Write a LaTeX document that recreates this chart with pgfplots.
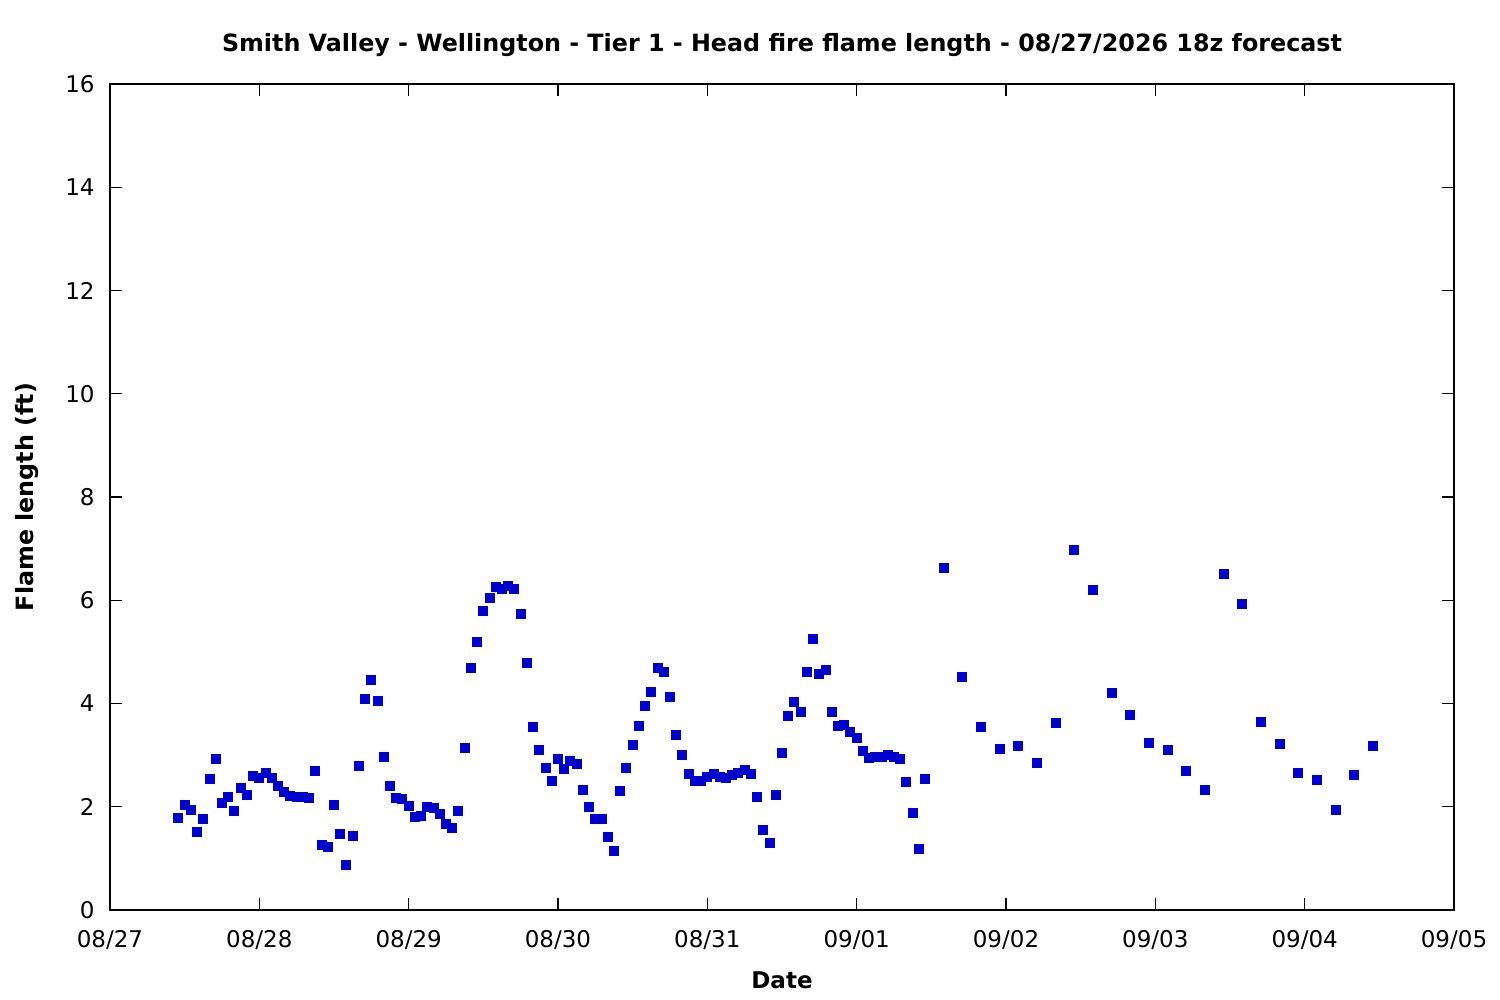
\documentclass[border=0pt]{standalone}
\usepackage{pgfplots}
\pgfplotsset{compat=1.18}
\usepackage{fontspec}
\setmainfont{DejaVu Sans}
\definecolor{ptblue}{HTML}{0000CD}
\begin{document}
\begin{tikzpicture}
\begin{axis}[
  scale only axis,
  width=672bp, height=413bp,
  xmin=0, xmax=216, ymin=0, ymax=16,
  xtick={0,24,...,216},
  xticklabels={08/27,08/28,08/29,08/30,08/31,09/01,09/02,09/03,09/04,09/05},
  ytick={0,2,...,16},
  tick align=inside,
  xtick pos=both, ytick pos=both,
  major tick length=6bp,
  axis line style={line width=1bp},
  tick style={line width=0.6bp, black},
  /pgf/number format/assume math mode=true,
  font=\fontsize{11.5bp}{13bp}\selectfont,
  xticklabel style={anchor=center, yshift=-15bp},
  yticklabel style={anchor=east, inner sep=0pt, xshift=-7.5bp},
  title={\fontsize{11.9bp}{14bp}\selectfont\bfseries Smith Valley - Wellington - Tier 1 - Head fire flame length - 08/27/2026 18z forecast},
  title style={at={(axis description cs:0.5,1)}, anchor=center, yshift=13.5bp},
  xlabel={\bfseries Date},
  xlabel style={at={(axis description cs:0.5,0)}, anchor=center, yshift=-35bp},
  ylabel={\fontsize{11.9bp}{14bp}\selectfont\bfseries Flame length (ft)},
  ylabel style={at={(axis description cs:0,0.5)}, anchor=center, yshift=41.5bp},
]
\addplot[only marks, mark=square*, mark size=2.25bp, color=ptblue, mark options={draw=ptblue, fill=ptblue, line width=0pt}] coordinates {
(11,1.78) (12,2.03) (13,1.94) (14,1.51) (15,1.76) (16,2.54) (17,2.92) (18,2.07) (19,2.19) (20,1.92)
(21,2.36) (22,2.23) (23,2.60) (24,2.56) (25,2.65) (26,2.56) (27,2.40) (28,2.29) (29,2.21) (30,2.19)
(31,2.19) (32,2.17) (33,2.69) (34,1.26) (35,1.22) (36,2.03) (37,1.47) (38,0.87) (39,1.43) (40,2.79)
(41,4.09) (42,4.46) (43,4.05) (44,2.96) (45,2.40) (46,2.17) (47,2.15) (48,2.01) (49,1.80) (50,1.82)
(51,2.00) (52,1.98) (53,1.86) (54,1.67) (55,1.59) (56,1.92) (57,3.14) (58,4.69) (59,5.19) (60,5.79)
(61,6.04) (62,6.26) (63,6.22) (64,6.28) (65,6.22) (66,5.73) (67,4.78) (68,3.54) (69,3.10) (70,2.75)
(71,2.50) (72,2.92) (73,2.73) (74,2.89) (75,2.83) (76,2.32) (77,2.00) (78,1.76) (79,1.76) (80,1.41)
(81,1.14) (82,2.31) (83,2.75) (84,3.20) (85,3.56) (86,3.95) (87,4.22) (88,4.69) (89,4.61) (90,4.13)
(91,3.39) (92,3.00) (93,2.63) (94,2.50) (95,2.50) (96,2.58) (97,2.63) (98,2.58) (99,2.56) (100,2.62)
(101,2.65) (102,2.71) (103,2.63) (104,2.19) (105,1.55) (106,1.30) (107,2.23) (108,3.04) (109,3.76) (110,4.03)
(111,3.84) (112,4.61) (113,5.25) (114,4.57) (115,4.65) (116,3.84) (117,3.56) (118,3.58) (119,3.45) (120,3.33)
(121,3.08) (122,2.94) (123,2.96) (124,2.96) (125,3.00) (126,2.96) (127,2.92) (128,2.48) (129,1.88) (130,1.18)
(131,2.54)
(134,6.62) (137,4.51) (140,3.54) (143,3.12) (146,3.18) (149,2.85) (152,3.62) (155,6.97) (158,6.20) (161,4.20)
(164,3.78) (167,3.23) (170,3.10) (173,2.69) (176,2.32) (179,6.51) (182,5.93) (185,3.64) (188,3.22) (191,2.65)
(194,2.52) (197,1.94) (200,2.62) (203,3.18)
};
\end{axis}
\pgfresetboundingbox
\useasboundingbox (current axis.south west) ++(-55bp,-45bp) rectangle ++(750bp,500bp);
\end{tikzpicture}
\end{document}
